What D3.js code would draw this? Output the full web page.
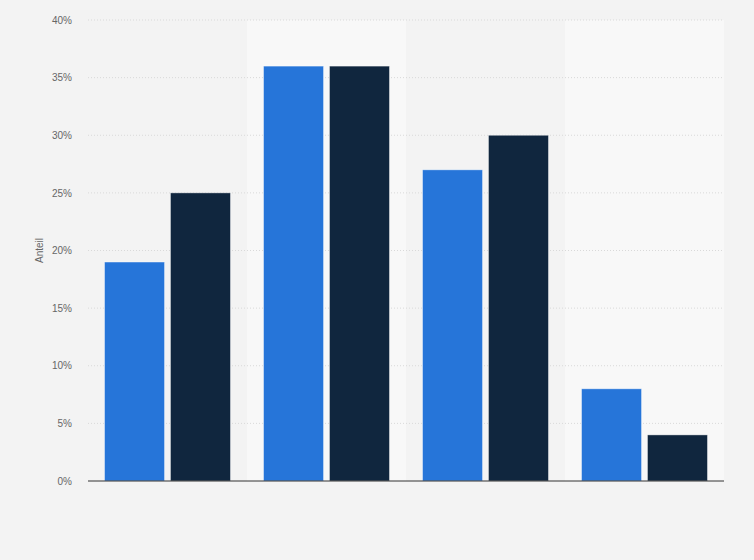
<!DOCTYPE html>
<html>
<head>
<meta charset="utf-8">
<script src="https://cdn.jsdelivr.net/npm/d3@7"></script>
<style>
  body { margin: 0; background: #f3f3f3; }
  svg { display: block; font-family: Arial, "Liberation Sans", sans-serif; }
</style>
</head>
<body>
<div id="chart"></div>
<script>
// categories have no visible labels in the reference
const categories = ['A', 'B', 'C', 'D'];
const seriesNames = ['Serie 1', 'Serie 2'];
const series1 = [19, 36, 27, 8];
const series2 = [25, 36, 30, 4];
const yTicks = [0, 5, 10, 15, 20, 25, 30, 35, 40];
const colors = ['#2675d9', '#10263e'];

const W = 754, H = 560;
const margin = { top: 20, right: 30, bottom: 79, left: 88 };
const width = W - margin.left - margin.right;
const height = H - margin.top - margin.bottom;

const svg = d3.select('#chart').append('svg')
  .attr('width', W)
  .attr('height', H);

svg.append('rect').attr('width', W).attr('height', H).attr('fill', '#f3f3f3');

const g = svg.append('g').attr('transform', `translate(${margin.left},${margin.top})`);

const x = d3.scaleBand().domain(categories).range([0, width]);
const groupPad = x.bandwidth() * 0.104;
const xInner = d3.scaleBand().domain(seriesNames)
  .range([groupPad, x.bandwidth() - groupPad])
  .paddingInner(0.09);
const y = d3.scaleLinear().domain([0, 40]).range([height, 0]);

// alternating column bands
g.selectAll('rect.band')
  .data(categories)
  .enter()
  .append('rect')
  .attr('class', 'band')
  .attr('x', d => x(d))
  .attr('y', 0)
  .attr('width', x.bandwidth())
  .attr('height', height)
  .attr('fill', (d, i) => i % 2 === 1 ? '#f8f8f8' : '#f3f3f3');

// gridlines
g.selectAll('line.grid')
  .data(yTicks.filter(t => t > 0))
  .enter()
  .append('line')
  .attr('x1', 0)
  .attr('x2', width)
  .attr('y1', d => y(d))
  .attr('y2', d => y(d))
  .attr('stroke', '#d9d9d9')
  .attr('stroke-width', 1)
  .attr('stroke-dasharray', '1,2');

// y axis labels
const yAxis = g.append('g')
  .call(d3.axisLeft(y).tickValues(yTicks).tickFormat(d => d + '%').tickSize(0).tickPadding(16));
yAxis.select('.domain').remove();
yAxis.selectAll('text')
  .attr('fill', '#666')
  .style('font-size', '10px');

// bars
const rows = categories.map((c, i) => ({ cat: c, values: [series1[i], series2[i]] }));
g.selectAll('g.group')
  .data(rows)
  .enter()
  .append('g')
  .attr('class', 'group')
  .attr('transform', d => `translate(${x(d.cat)},0)`)
  .selectAll('rect')
  .data(d => d.values.map((v, j) => ({ key: seriesNames[j], v, j })))
  .enter()
  .append('rect')
  .attr('x', d => xInner(d.key))
  .attr('y', d => y(d.v))
  .attr('width', xInner.bandwidth())
  .attr('height', d => y(0) - y(d.v))
  .attr('fill', d => colors[d.j])
  .attr('stroke', 'rgba(255,255,255,0.5)')
  .attr('stroke-width', 0.8);

// baseline
g.append('line')
  .attr('x1', 0)
  .attr('x2', width)
  .attr('y1', y(0))
  .attr('y2', y(0))
  .attr('stroke', '#333')
  .attr('stroke-width', 1.2);

// y axis title
svg.append('text')
  .attr('transform', 'rotate(-90)')
  .attr('x', -(margin.top + height / 2))
  .attr('y', 43)
  .attr('text-anchor', 'middle')
  .attr('fill', '#666')
  .style('font-size', '10px')
  .text('Anteil');
</script>
</body>
</html>
